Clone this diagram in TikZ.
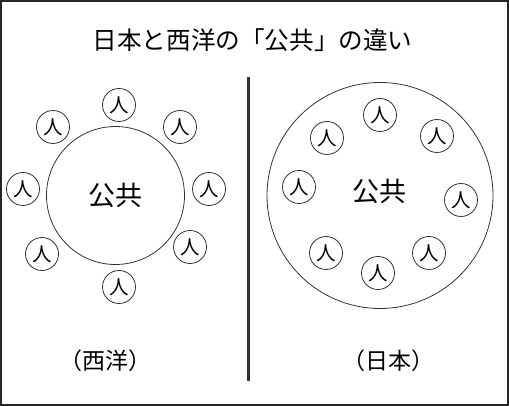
\documentclass[tikz,border=0pt]{standalone}
\usepackage{fontspec}
\setmainfont{Noto Sans CJK JP}
\usetikzlibrary{calc}
\tikzset{x=1pt, y=-1pt,
  person/.style={circle, draw=black!80, line width=0.8pt, minimum size=33pt,
        inner sep=0pt, font=\fontsize{19.5}{19.5}\selectfont},
  public/.style={circle, draw=black!80, line width=0.8pt, inner sep=0pt,
        font=\fontsize{27}{27}\selectfont},
  caption/.style={font=\fontsize{23}{23}\selectfont},
  divider/.style={draw=black!80, line width=3pt}
}
\begin{document}
\begin{tikzpicture}
\useasboundingbox (0,0) rectangle (509,406);
\draw[line width=2pt, black!85] (1,1) rectangle (508,405);
\node (Title) [caption, font=\fontsize{24.6}{24.6}\selectfont] at (252.5,40) {日本と西洋の「公共」の違い};
% left side: people outside
\node (WestPublic) [public, minimum size=138pt] at (115.5,195.5) {公共};
\foreach \n/\px/\py in {1/119/105, 2/53/127, 3/180/127, 4/23/189,
                        5/209/189, 6/42/254, 7/190/247, 8/119/287}
  \node (west\n) [person] at (\px,\py) {人};
\node (WestLabel) [caption] at (105,361) {（西洋）};
% divider
\coordinate (LineTop) at (248.5,77.5);
\coordinate (LineBottom) at (248.5,381);
\draw[divider] (LineTop) -- (LineBottom);
% right side: people inside
\node (JapanPublic) [public, minimum size=226pt] at (380,195.5) {};
\node (JapanCore) [font=\fontsize{27}{27}\selectfont] at (379.5,191.5) {公共};
\foreach \n/\px/\py in {1/380/115, 2/327/138, 3/437/136, 4/299/187,
                        5/461/200, 6/326/253, 7/429/253, 8/378/273}
  \node (japan\n) [person] at (\px,\py) {人};
\node (JapanLabel) [caption] at (388,361) {（日本）};
\end{tikzpicture}
\end{document}
